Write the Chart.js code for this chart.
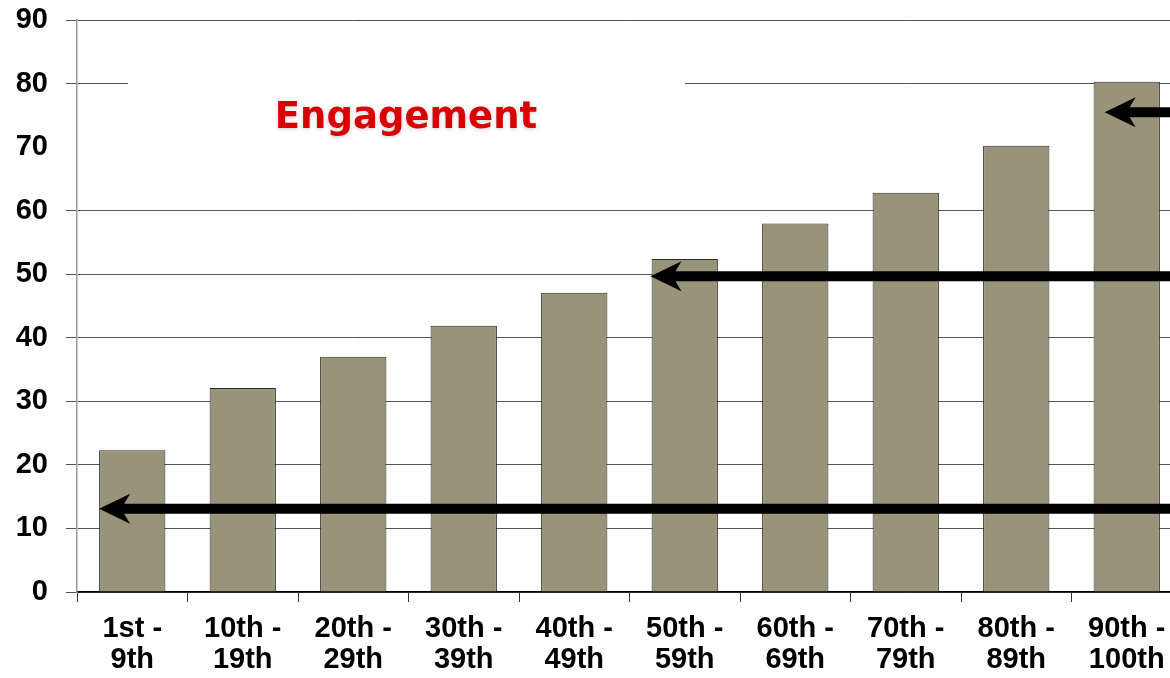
<!DOCTYPE html>
<html>
<head>
<meta charset="utf-8">
<script src="https://cdn.jsdelivr.net/npm/chart.js@4/dist/chart.umd.min.js"></script>
<style>
  html, body { margin: 0; padding: 0; background: #fff; overflow: hidden; }
  #wrap { width: 1186px; height: 678px; }
</style>
</head>
<body>
<div id="wrap"><canvas id="engagement-chart" width="1186" height="678"></canvas></div>
<script>
// percentile groups and engagement values
const percentileLabels = [
  ['1st -', '9th'], ['10th -', '19th'], ['20th -', '29th'], ['30th -', '39th'],
  ['40th -', '49th'], ['50th -', '59th'], ['60th -', '69th'], ['70th -', '79th'],
  ['80th -', '89th'], ['90th -', '100th']
];
const engagementValues = [22.3, 32.1, 37.0, 41.9, 47.1, 52.4, 58.0, 62.8, 70.2, 80.3];

// arrows pointing left: value level, tip position (category index)
const arrowLevels = [13.1, 49.7, 75.5];
const arrowTips = [-0.3, 4.69, 8.8];

const chartTitle = 'Engagement';

const decorations = {
  id: 'decorations',
  beforeDatasetsDraw(chart) {
    const { ctx, scales } = chart;
    // white patch hiding part of the 80 gridline
    const y80 = scales.y.getPixelForValue(80);
    ctx.save();
    ctx.fillStyle = '#fff';
    ctx.fillRect(128, y80 - 3, 557, 6);
    ctx.restore();
  },
  afterDatasetsDraw(chart) {
    const { ctx, chartArea, scales } = chart;
    ctx.save();
    ctx.fillStyle = '#000';
    arrowLevels.forEach((level, i) => {
      const y = scales.y.getPixelForValue(level);
      const tipX = scales.x.getPixelForValue(arrowTips[i]);
      const headLen = 31, headHalf = 15, shaft = 5;
      ctx.beginPath();
      ctx.moveTo(tipX, y);
      ctx.lineTo(tipX + headLen, y - headHalf);
      ctx.lineTo(tipX + headLen - 6, y - shaft);
      ctx.lineTo(chartArea.right + 10, y - shaft);
      ctx.lineTo(chartArea.right + 10, y + shaft);
      ctx.lineTo(tipX + headLen - 6, y + shaft);
      ctx.lineTo(tipX + headLen, y + headHalf);
      ctx.closePath();
      ctx.fill();
    });
    // title text
    ctx.font = 'bold 37px "DejaVu Sans"';
    ctx.textAlign = 'center';
    ctx.textBaseline = 'alphabetic';
    ctx.shadowColor = 'rgba(120,120,140,0.35)';
    ctx.shadowBlur = 4;
    ctx.shadowOffsetX = 0;
    ctx.shadowOffsetY = 1;
    ctx.fillStyle = '#d90000';
    ctx.fillText(chartTitle, 406, 128);
    ctx.restore();
  }
};

new Chart(document.getElementById('engagement-chart'), {
  type: 'bar',
  data: {
    labels: percentileLabels,
    datasets: [{
      label: 'Engagement',
      data: engagementValues,
      backgroundColor: '#99937a',
      borderColor: '#2b2b2b',
      borderWidth: 1,
      barPercentage: 0.6,
      categoryPercentage: 1.0
    }]
  },
  options: {
    responsive: false,
    animation: false,
    layout: { padding: { top: 20, right: 4, left: 0, bottom: 0 } },
    plugins: {
      legend: { display: false },
      tooltip: { enabled: false }
    },
    scales: {
      x: {
        offset: true,
        grid: {
          offset: true,
          drawOnChartArea: false,
          tickLength: 10,
          color: '#333'
        },
        border: { color: '#000', width: 1.5 },
        ticks: {
          color: '#000',
          padding: 11,
          maxRotation: 0,
          autoSkip: false,
          font: { family: '"Liberation Sans", Arial', size: 29, weight: 'bold', lineHeight: 1.07 }
        },
        afterFit(scale) { scale.height = 86; }
      },
      y: {
        min: 0,
        max: 90,
        grid: {
          tickLength: 11,
          color(ctx) { return ctx.tick && ctx.tick.value === 70 ? 'rgba(0,0,0,0)' : '#555'; }
        },
        border: { color: '#9a9a9a', width: 1.5 },
        ticks: {
          stepSize: 10,
          color: '#000',
          padding: 18,
          font: { family: '"Liberation Sans", Arial', size: 29, weight: 'bold' }
        },
        afterFit(scale) {
          scale.width = 77;
          scale.paddingTop = 0;
          scale.paddingBottom = 0;
        }
      }
    }
  },
  plugins: [decorations]
});
</script>
</body>
</html>
